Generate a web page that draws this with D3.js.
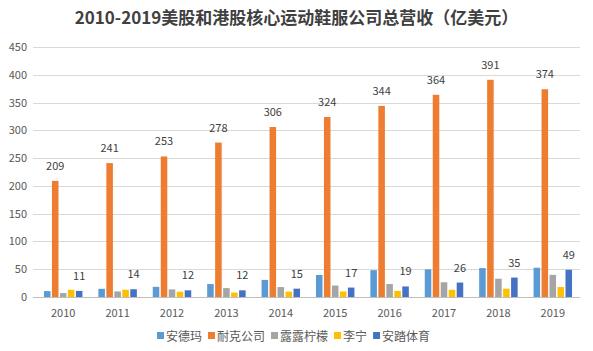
<!DOCTYPE html>
<html>
<head>
<meta charset="utf-8">
<script src="https://cdn.jsdelivr.net/npm/d3@7"></script>
<style>
  body { margin: 0; background: #fff; }
  text { font-family: "Noto Sans CJK SC", "Noto Sans", sans-serif; }
</style>
</head>
<body>
<div id="chart"></div>
<script>
const width = 593, height = 351;

// data
const years = ["2010", "2011", "2012", "2013", "2014", "2015", "2016", "2017", "2018", "2019"];
const seriesNames = ["安德玛", "耐克公司", "露露柠檬", "李宁", "安踏体育"];
const underArmour = [10.6, 14.7, 18.3, 23.3, 30.8, 39.6, 48.3, 49.8, 52.0, 52.7];
const nike = [209, 241, 253, 278, 306, 324, 344, 364, 391, 374];
const lululemon = [7.1, 10.0, 13.7, 16.0, 17.9, 20.6, 23.4, 26.5, 32.9, 39.8];
const liNing = [13, 13, 9.5, 8, 9.5, 10, 11, 13, 15, 18];
const anta = [11, 14, 12, 12, 15, 17, 19, 26, 35, 49];
const yTicks = [0, 50, 100, 150, 200, 250, 300, 350, 400, 450];
const colors = ["#5B9BD5", "#ED7D31", "#A5A5A5", "#FFC000", "#4472C4"];
const labelled = [1, 4]; // series with data labels

const allSeries = [underArmour, nike, lululemon, liNing, anta];

const margin = { top: 47, right: 13, bottom: 54, left: 36 };

const svg = d3.select("#chart")
    .append("svg")
    .attr("width", width)
    .attr("height", height);

// title
svg.append("text")
    .attr("x", width / 2)
    .attr("y", 24)
    .attr("text-anchor", "middle")
    .attr("font-size", 17)
    .attr("font-weight", "bold")
    .attr("fill", "#404040")
    .text("2010-2019美股和港股核心运动鞋服公司总营收（亿美元）");

const x0 = d3.scaleBand()
    .domain(years)
    .range([margin.left, width - margin.right])
    .paddingInner(0.24)
    .paddingOuter(0.12);

const x1 = d3.scaleBand()
    .domain(d3.range(seriesNames.length))
    .range([0, x0.bandwidth()])
    .padding(0.18);

const y = d3.scaleLinear()
    .domain([0, 450])
    .range([height - margin.bottom, margin.top]);

// gridlines
svg.append("g")
    .selectAll("line")
    .data(yTicks)
    .join("line")
    .attr("x1", margin.left - 3)
    .attr("x2", width - margin.right)
    .attr("y1", d => Math.round(y(d)) + 0.5)
    .attr("y2", d => Math.round(y(d)) + 0.5)
    .attr("stroke", d => d === 0 ? "#bfbfbf" : "#d9d9d9")
    .attr("stroke-width", 1);

// y axis labels
svg.append("g")
    .selectAll("text")
    .data(yTicks)
    .join("text")
    .attr("x", margin.left - 9)
    .attr("y", d => y(d) + 4)
    .attr("text-anchor", "end")
    .attr("font-size", 11)
    .attr("fill", "#595959")
    .text(d => d);

// x axis labels
svg.append("g")
    .selectAll("text")
    .data(years)
    .join("text")
    .attr("x", d => x0(d) + x0.bandwidth() / 2)
    .attr("y", height - margin.bottom + 20)
    .attr("text-anchor", "middle")
    .attr("font-size", 11)
    .attr("fill", "#595959")
    .text(d => d);

// bars
const groups = svg.append("g")
    .selectAll("g")
    .data(years)
    .join("g")
    .attr("transform", d => `translate(${x0(d)},0)`);

groups.selectAll("rect")
    .data((d, i) => allSeries.map((s, k) => ({ k, v: s[i] })))
    .join("rect")
    .attr("x", d => x1(d.k))
    .attr("width", x1.bandwidth())
    .attr("y", d => y(d.v))
    .attr("height", d => y(0) - y(d.v))
    .attr("fill", d => colors[d.k]);

// data labels
groups.selectAll("text.lbl")
    .data((d, i) => labelled.map(k => ({ k, v: allSeries[k][i] })))
    .join("text")
    .attr("class", "lbl")
    .attr("x", d => x1(d.k) + x1.bandwidth() / 2)
    .attr("y", d => y(d.v) - 11)
    .attr("text-anchor", "middle")
    .attr("font-size", 11)
    .attr("fill", "#404040")
    .text(d => d.v);

// legend
const legend = svg.append("g")
    .attr("transform", `translate(0,${height - 10})`);
let lx = 157;
seriesNames.forEach((name, k) => {
    legend.append("rect")
        .attr("x", lx)
        .attr("y", -9)
        .attr("width", 7)
        .attr("height", 7)
        .attr("fill", colors[k]);
    const t = legend.append("text")
        .attr("x", lx + 9)
        .attr("y", 0)
        .attr("font-size", 12)
        .attr("fill", "#595959")
        .text(name);
    lx += 9 + t.node().getComputedTextLength() + 6;
});
</script>
</body>
</html>
